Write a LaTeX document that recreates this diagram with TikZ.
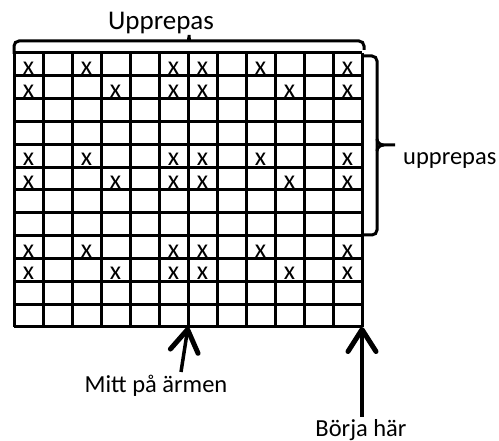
\documentclass[tikz,border=0pt]{standalone}
\usepackage{fontspec}
\setmainfont{Carlito}
\usetikzlibrary{arrows.meta,positioning}
\tikzset{>=Stealth,
  gridline/.style={line width=3pt,line cap=square},
  brace/.style={line width=3pt,rounded corners=5pt},
  pointer/.style={line width=3.5pt,-{Straight Barb[length=22pt,width=28pt,line width=5pt,round]}},
  lbl/.style={font=\fontsize{24.5}{28}\selectfont,inner sep=2pt},
  kryss/.style={font=\fontsize{26}{28}\selectfont,anchor=base,inner sep=0pt,text height=11pt,text depth=0pt}}

\begin{document}
\begin{tikzpicture}[x=1pt,y=-1pt]
  \useasboundingbox (0,0) rectangle (499,441);
  % rutnat 12 x 12
  \foreach \i in {0,...,12}
    \draw [gridline] (14+29*\i,53) -- (14+29*\i,327);
  \foreach \j in {0,...,12}
    \draw [gridline] (14,53+274/12*\j) -- (362,53+274/12*\j);
  % kryss
  \foreach \r in {0,4,8}{
    \foreach \c in {1,3,6,7,9,12}
      \node [kryss] (x-\r-a\c) at (14+29*\c-14.5,53+274/12*\r+21.5) {x};
    \foreach \c in {1,4,6,7,10,12}
      \node [kryss] (x-\r-b\c) at (14+29*\c-14.5,53+274/12*\r+274/12+21.5) {x};
  }
  % klammer upptill
  \draw [brace] (14,54) |- (184,41) to[out=0,in=-90] (189,32) to[out=-90,in=180] (194,41) -| (364,50);
  \node [lbl,anchor=base,font=\fontsize{27}{30}\selectfont] (topp) at (161,30) {Upprepas};
  % klammer till hoger
  \draw [brace] (363,56) -| (377,235) -- (363,235);
  \draw [line width=3pt] (377,139) to[out=-90,in=180] (384,145) -- (395,145);
  \draw [line width=3pt] (377,151) to[out=90,in=180] (384,145);
  \node [lbl,anchor=base west] (sida) at (401,165) {upprepas};
  % pilar
  \coordinate (mitt-tip) at (188,327);
  \coordinate (mitt-tail) at (181,372);
  \coordinate (start) at (362,327);
  \node [lbl,anchor=base] (mitt) at (156,392) {Mitt på ärmen};
  \node [lbl,anchor=base] (borja) at (361,436) {Börja här};
  \draw [pointer] (mitt-tail) -- (mitt-tip);
  \draw [pointer] (borja.north -| start) -- (start);
\end{tikzpicture}
\end{document}
